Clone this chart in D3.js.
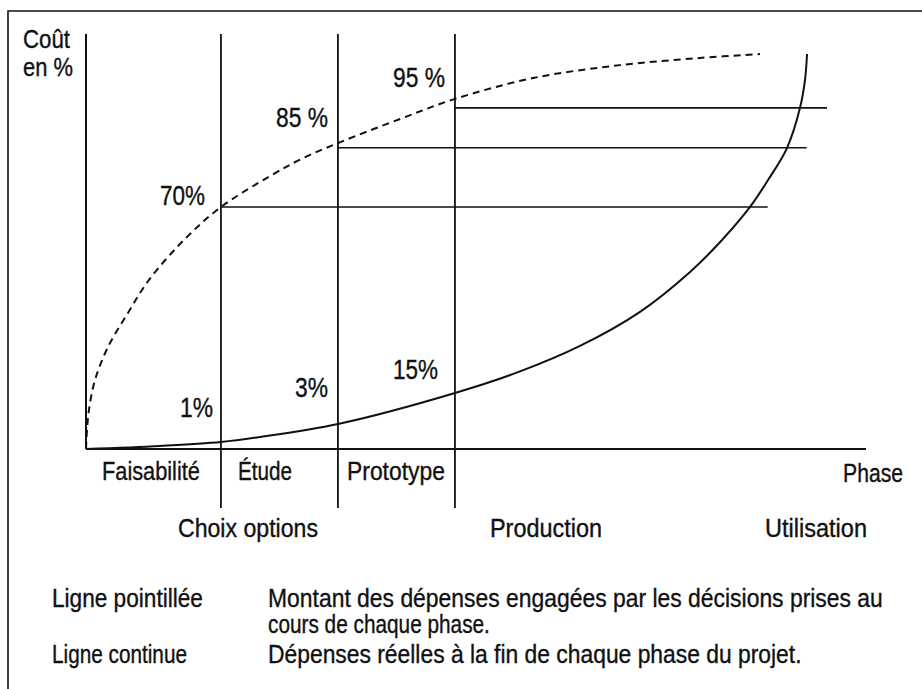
<!DOCTYPE html>
<html>
<head>
<meta charset="utf-8">
<script src="https://cdn.jsdelivr.net/npm/d3@7"></script>
<style>
  html, body { margin: 0; padding: 0; background: #fff; }
  svg { display: block; }
  text { font-family: 'Liberation Sans Narrow', 'Arial Narrow', 'Liberation Sans', Arial, sans-serif; fill: #111; stroke: #111; stroke-width: 0.35px; }
</style>
</head>
<body>
<svg id="chart" width="922" height="689"></svg>
<script>
// ---------------- DATA ----------------
// horizontal axis: project timeline (0 = start, 100 = end of axis)
// vertical axis: cost in % (schematic)
const phaseNames = ["Faisabilité", "Étude", "Prototype"];
const phaseBounds = [0, 17.3, 32.3, 47.3];          // phase boundaries on the timeline
const stageNames = ["Choix options", "Production", "Utilisation"];

// dashed curve: committed expenditure (decisions taken)
const committedX = [0, 0.13, 0.38, 1.15, 2.82, 5.38, 8.08, 12.69, 17.31, 23.59, 27.82, 32.31, 40.26, 47.31, 57.31, 68.46, 78.72, 86.41];
const committedY = [0, 5.3, 10.9, 19.2, 28.4, 37.9, 47.1, 58.5, 67.4, 76.0, 81.0, 85.2, 91.9, 97.5, 103.3, 106.9, 108.9, 110.0];

// solid curve: actual expenditure
const actualX = [0, 9.49, 17.31, 22.31, 32.31, 47.31, 55.64, 63.33, 71.03, 77.44, 81.54, 85.13, 87.44, 89.87, 91.54, 92.18, 92.44];
const actualY = [0, 0.84, 1.95, 3.34, 6.96, 15.6, 21.6, 28.7, 38.2, 49.3, 58.2, 67.4, 74.9, 83.8, 95.0, 102.8, 110.0];

// horizontal reference levels (committed % at end of each phase)
const levelValues = [67.4, 83.9, 95.0];
const levelStarts = [17.3, 32.3, 47.3];
const levelEnds = [87.4, 92.4, 95.0];
const committedLabels = ["70%", "85 %", "95 %"];
const actualLabels = ["1%", "3%", "15%"];

const legendKeys = ["Ligne pointillée", "Ligne continue"];
const legendTexts = [
  ["Montant des dépenses engagées par les décisions prises au", "cours de chaque phase."],
  ["Dépenses réelles à la fin de chaque phase du projet."]
];

// ---------------- DRAWING ----------------
const svg = d3.select("#chart");
const x = d3.scaleLinear().domain([0, 100]).range([86, 866]);
const y = d3.scaleLinear().domain([0, 110]).range([449, 54]);

const ink = "#111";

// outer frame (top and left edges)
svg.append("path")
  .attr("d", "M8,689 L8,11 L922,11")
  .attr("fill", "none").attr("stroke", ink).attr("stroke-width", 1.6);

// text drawn at natural size, then condensed horizontally to the reference width
function label(str, px, py, size, width, anchor) {
  const t = svg.append("text")
    .attr("x", 0).attr("y", 0)
    .attr("font-size", size)
    .attr("text-anchor", anchor || "start")
    .text(str);
  let sx = 1;
  if (width) {
    const w = t.node().getComputedTextLength();
    if (w > 0) sx = width / w;
  }
  t.attr("transform", `translate(${px},${py}) scale(${sx},1)`);
  return t;
}

// axes
const yAxisTop = 34, phaseLineBottom = 508;
svg.append("line")
  .attr("x1", x(0)).attr("x2", x(0))
  .attr("y1", y(0)).attr("y2", yAxisTop)
  .attr("stroke", ink).attr("stroke-width", 2);
svg.append("line")
  .attr("x1", x(0)).attr("x2", x(100))
  .attr("y1", y(0)).attr("y2", y(0))
  .attr("stroke", ink).attr("stroke-width", 2);

// phase boundary lines
svg.selectAll("line.phase")
  .data(phaseBounds.slice(1))
  .enter().append("line")
  .attr("class", "phase")
  .attr("x1", d => x(d)).attr("x2", d => x(d))
  .attr("y1", yAxisTop).attr("y2", phaseLineBottom)
  .attr("stroke", ink).attr("stroke-width", 1.8);

// horizontal levels
svg.selectAll("line.level")
  .data(levelValues)
  .enter().append("line")
  .attr("class", "level")
  .attr("x1", (d, i) => x(levelStarts[i]))
  .attr("x2", (d, i) => x(levelEnds[i]))
  .attr("y1", d => y(d)).attr("y2", d => y(d))
  .attr("stroke", ink).attr("stroke-width", 1.6);

// curves
const lineGen = d3.line().x(d => x(d[0])).y(d => y(d[1])).curve(d3.curveCatmullRom.alpha(0.5));
svg.append("path")
  .datum(committedX.map((v, i) => [v, committedY[i]]))
  .attr("d", lineGen)
  .attr("fill", "none").attr("stroke", ink).attr("stroke-width", 2)
  .attr("stroke-dasharray", "7,5");
svg.append("path")
  .datum(actualX.map((v, i) => [v, actualY[i]]))
  .attr("d", lineGen)
  .attr("fill", "none").attr("stroke", ink).attr("stroke-width", 2);

// axis titles
label("Coût", 23, 48, 26, 47);
label("en %", 23, 76, 26, 50);
label("Phase", 903, 482, 25, 60, "end");

// committed labels
const cPos = [[160, 205, 45], [276, 127, 52], [393, 87, 52]];
committedLabels.forEach((s, i) => label(s, cPos[i][0], cPos[i][1], 27, cPos[i][2]));
// actual labels
const aPos = [[180, 417, 33], [295, 397, 33], [393, 379, 45]];
actualLabels.forEach((s, i) => label(s, aPos[i][0], aPos[i][1], 27, aPos[i][2]));

// phase names under the axis
const pPos = [[102, 98], [238, 54], [347, 98]];
phaseNames.forEach((s, i) => label(s, pPos[i][0], 480, 25, pPos[i][1]));

// stage names
const sPos = [[178, 140], [490, 112], [765, 102]];
stageNames.forEach((s, i) => label(s, sPos[i][0], 537, 25, sPos[i][1]));

// legend
label(legendKeys[0], 52, 607, 25, 151);
label(legendKeys[1], 52, 663, 25, 135);
label(legendTexts[0][0], 268, 607, 25, 615);
label(legendTexts[0][1], 268, 633, 25, 222);
label(legendTexts[1][0], 268, 663, 25, 534);
</script>
</body>
</html>
